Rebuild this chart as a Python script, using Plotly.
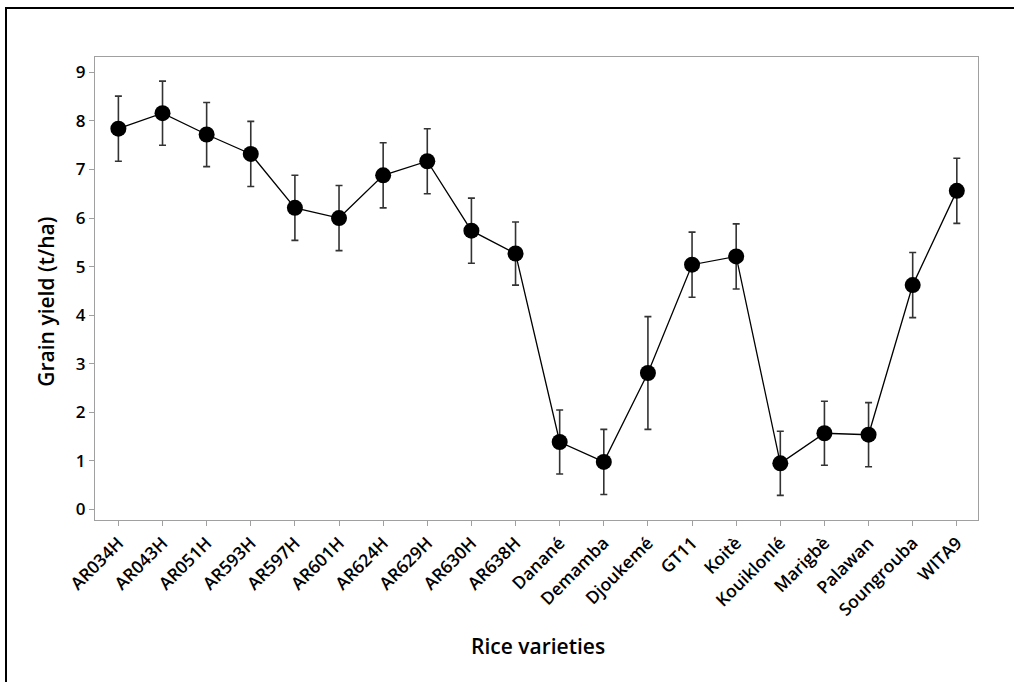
import plotly.graph_objects as go

varieties = ["AR034H", "AR043H", "AR051H", "AR593H", "AR597H", "AR601H", "AR624H",
             "AR629H", "AR630H", "AR638H", "Danané", "Demamba", "Djoukemé", "GT11",
             "Koitè", "Kouiklonlé", "Marigbè", "Palawan", "Soungrouba", "WITA9"]
yield_mean = [7.84, 8.16, 7.72, 7.32, 6.21, 6.00, 6.88, 7.17, 5.74, 5.27,
              1.39, 0.98, 2.81, 5.04, 5.21, 0.95, 1.57, 1.54, 4.62, 6.56]
yield_err = [0.67, 0.66, 0.66, 0.67, 0.67, 0.67, 0.67, 0.67, 0.67, 0.65,
             0.66, 0.67, 1.16, 0.67, 0.67, 0.66, 0.66, 0.66, 0.67, 0.67]
y_ticks = [0, 1, 2, 3, 4, 5, 6, 7, 8, 9]

FONT = "Open Sans"

fig = go.Figure()
fig.add_trace(go.Scatter(
    x=list(range(len(varieties))), y=yield_mean,
    mode="lines+markers",
    line=dict(color="black", width=1.3),
    marker=dict(color="black", size=16),
    error_y=dict(type="data", array=yield_err, visible=True,
                 color="#333333", thickness=1.6, width=3.5),
    showlegend=False,
))

axis_common = dict(
    showline=True, linecolor="#a0a0a0", linewidth=1, mirror=True,
    ticks="outside", ticklen=5, tickcolor="#a0a0a0", tickwidth=1,
    showgrid=False, zeroline=False,
)

fig.update_xaxes(
    **axis_common,
    range=[-0.53, 19.48],
    tickmode="array", tickvals=list(range(len(varieties))), ticktext=varieties,
    tickangle=-45,
    tickfont=dict(family=FONT, size=17.5, color="black", weight=600),
)
fig.update_yaxes(
    **axis_common,
    range=[-0.216, 9.316],
    tickmode="array", tickvals=y_ticks,
    tickfont=dict(family=FONT, size=17, color="black", weight=600),
)

# axis titles
fig.add_annotation(text="Rice varieties", xref="paper", yref="paper",
                   x=(537.5 - 95) / 883, y=(520.5 - 647) / 463.5,
                   xanchor="center", yanchor="middle", showarrow=False,
                   font=dict(family=FONT, size=21, color="black", weight=600))
fig.add_annotation(text="Grain yield (t/ha)", xref="paper", yref="paper",
                   x=(46 - 95) / 883, y=(520.5 - 302) / 463.5, textangle=-90,
                   xanchor="center", yanchor="middle", showarrow=False,
                   font=dict(family=FONT, size=21, color="black", weight=600))

# outer frame of the figure
fig.add_shape(type="rect", xref="paper", yref="paper",
              x0=(6 - 95) / 883, x1=(1030 - 95) / 883,
              y0=(520.5 - 700) / 463.5, y1=(520.5 - 8) / 463.5,
              line=dict(color="black", width=2), fillcolor="rgba(0,0,0,0)",
              layer="below")

fig.update_layout(
    width=1014, height=682,
    margin=dict(l=95, r=36, t=57, b=161.5),
    paper_bgcolor="white", plot_bgcolor="white",
)

fig.write_html("out.html")
